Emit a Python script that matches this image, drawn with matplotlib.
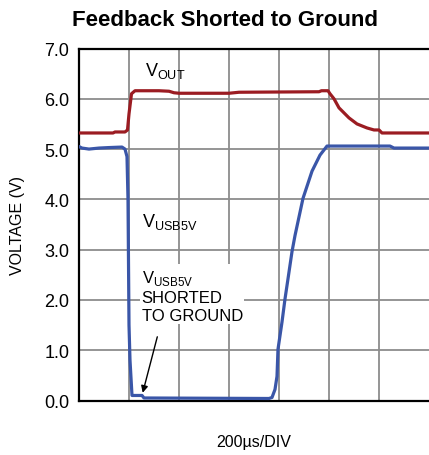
import matplotlib.pyplot as plt
import numpy as np

plt.rcParams['font.family'] = ['DejaVu Sans Condensed', 'Liberation Sans Narrow', 'Liberation Sans']

# time in divisions (200us/DIV), voltages in V
t_out = [0, 0.68, 0.72, 0.92, 0.97, 1.0, 1.05, 1.12, 1.6, 1.8, 1.9, 2.0,
         3.0, 3.2, 4.8, 4.85, 4.98, 5.02, 5.1, 5.2, 5.4, 5.56, 5.76, 5.9,
         6.0, 6.06, 7.0]
v_out = [5.32, 5.32, 5.34, 5.34, 5.38, 5.7, 6.1, 6.16, 6.16, 6.15, 6.12, 6.11,
         6.11, 6.13, 6.14, 6.16, 6.16, 6.1, 6.0, 5.82, 5.62, 5.5, 5.42, 5.38,
         5.38, 5.32, 5.32]

t_usb = [0, 0.06, 0.2, 0.4, 0.6, 0.86, 0.92, 0.96, 0.98, 1.0, 1.02, 1.06,
         1.26, 1.3, 3.8, 3.86, 3.92, 3.96, 3.98, 4.06, 4.12, 4.18, 4.26,
         4.32, 4.48, 4.66, 4.82, 4.96, 6.22, 6.3, 7.0]
v_usb = [5.05, 5.02, 5.0, 5.02, 5.03, 5.04, 5.0, 4.85, 4.0, 1.5, 0.8, 0.1,
         0.1, 0.05, 0.04, 0.06, 0.22, 0.48, 1.02, 1.56, 2.02, 2.42, 2.96,
         3.28, 4.02, 4.56, 4.88, 5.06, 5.06, 5.02, 5.02]

yticks = np.arange(0, 7.5, 1.0)

fig = plt.figure(figsize=(4.29, 4.56), dpi=100)
ax = fig.add_axes([79 / 429, 1 - 401.5 / 456, 350 / 429, 352 / 456])

ax.plot(t_out, v_out, color='#9b1c22', lw=2.3, solid_joinstyle='round', zorder=3)
ax.plot(t_usb, v_usb, color='#3a56a8', lw=2.3, solid_joinstyle='round', zorder=3)

ax.set_xlim(0, 7)
ax.set_ylim(0, 7)
ax.set_xticks(np.arange(1, 7))
ax.set_xticklabels([])
ax.set_yticks(yticks)
ax.set_yticklabels([f'{v:.1f}' for v in yticks], fontsize=13)
ax.tick_params(length=0, pad=7)
ax.grid(True, color='#8c8c8c', lw=1.3)
ax.set_axisbelow(True)
for s in ['left', 'bottom', 'top']:
    ax.spines[s].set_linewidth(1.6)
ax.spines['right'].set_visible(False)

ax.set_ylabel('VOLTAGE (V)', fontsize=11.5, labelpad=14)
fig.text(254 / 429, 1 - 443 / 456, '200µs/DIV', ha='center', va='center',
         fontsize=11.5)
fig.text(0.524, 0.955, 'Feedback Shorted to Ground', ha='center', va='center',
         fontsize=16, fontweight='bold')

ax.text(1.32, 6.58, r'V$_{\mathregular{OUT}}$', fontsize=13, va='center')
ax.text(1.26, 3.56, r'V$_{\mathregular{USB5V}}$', fontsize=13, va='center')
ax.text(1.25, 2.64, 'V$_{\\mathregular{USB5V}}$\nSHORTED\nTO GROUND', fontsize=12,
        va='top', linespacing=1.25,
        bbox=dict(facecolor='white', edgecolor='none', pad=1))
ax.annotate('', xy=(1.26, 0.1), xytext=(1.58, 1.32),
            arrowprops=dict(arrowstyle='-|>', color='black', lw=1.0,
                            mutation_scale=10))

fig.savefig('out.png', dpi=100)
